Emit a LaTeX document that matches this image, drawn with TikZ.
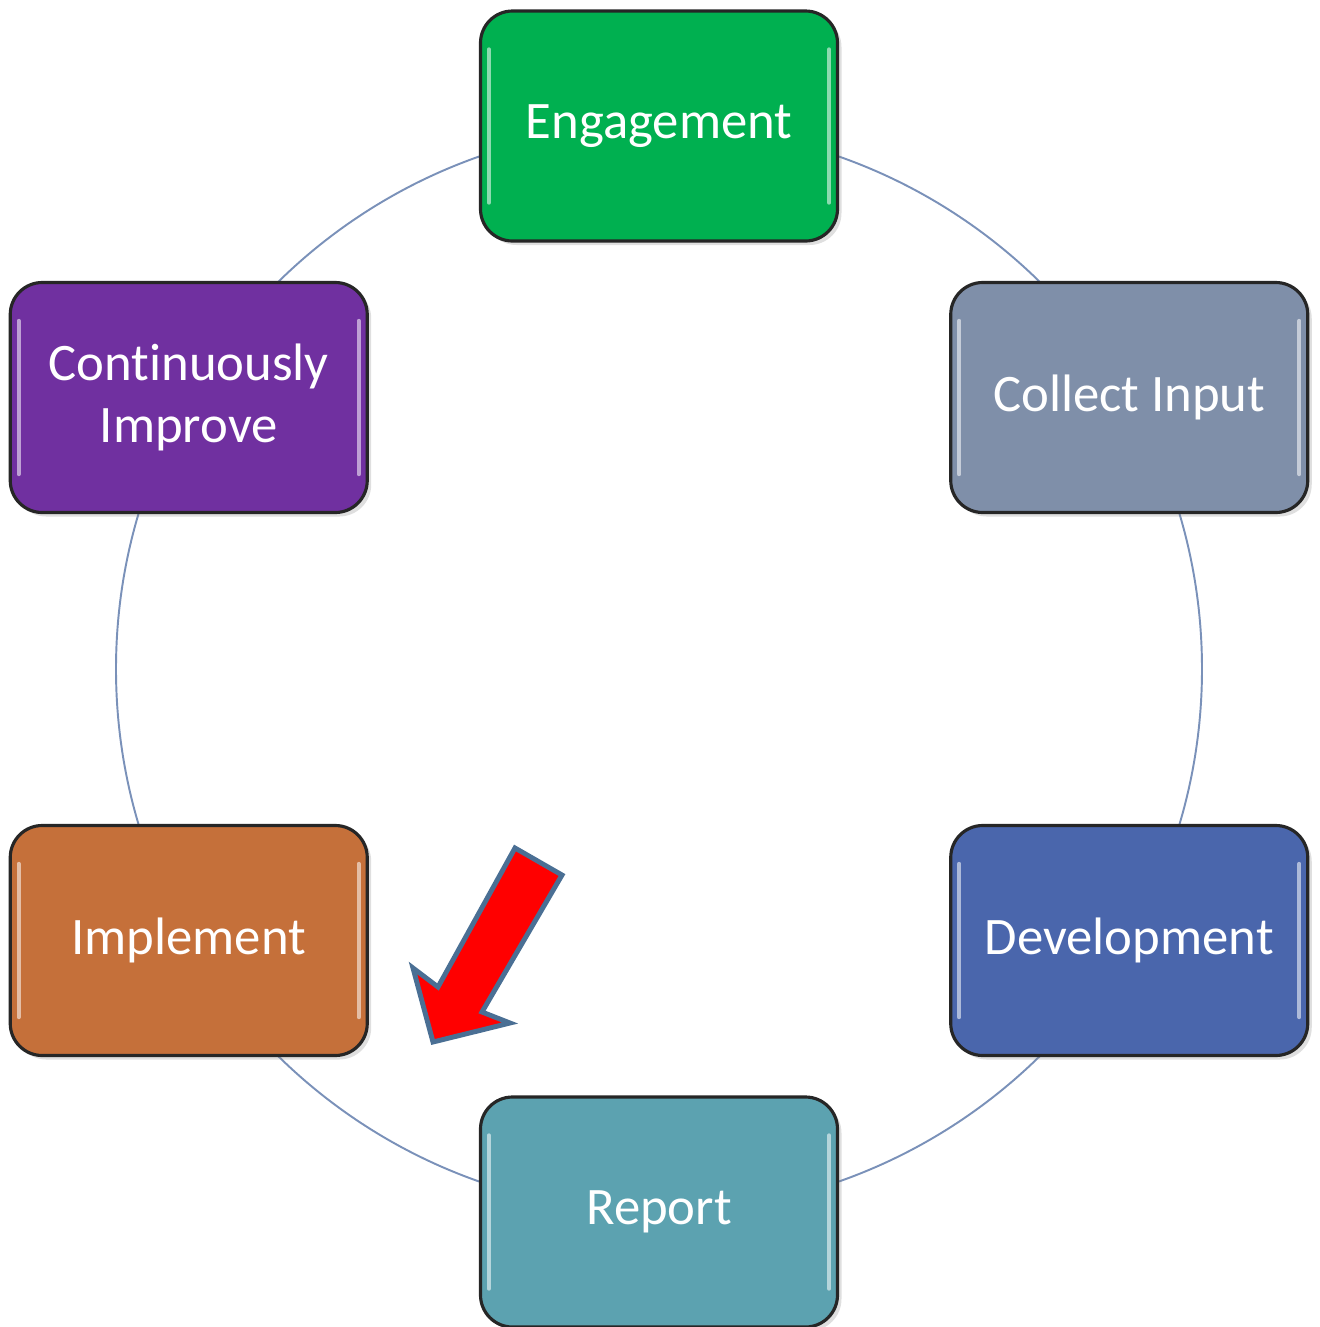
\documentclass[tikz,border=0pt]{standalone}
\usepackage{fontspec}
\setmainfont{Carlito}[Ligatures=NoCommon]
\usetikzlibrary{calc,shadows}

\definecolor{engage}{RGB}{0,176,80}
\definecolor{collect}{RGB}{127,143,169}
\definecolor{develop}{RGB}{74,102,172}
\definecolor{report}{RGB}{92,162,176}
\definecolor{implement}{RGB}{197,112,58}
\definecolor{improve}{RGB}{112,48,160}
\definecolor{ringcol}{RGB}{122,145,185}
\definecolor{arrowedge}{RGB}{74,111,148}

\tikzset{
  stage/.style={draw=black!85,line width=0.9pt,rounded corners=0.32cm,
    minimum width=3.57cm,minimum height=2.3cm,align=center,text=white,
    font=\fontsize{15}{17.5}\selectfont,
    drop shadow={opacity=0.25,shadow xshift=0.04cm,shadow yshift=-0.04cm}},
  gloss/.style={white,line width=1.2pt,opacity=0.55,line cap=round},
  ring/.style={ringcol,line width=0.55pt}
}

\begin{document}
\begin{tikzpicture}[line width=0.8pt]
  \useasboundingbox (0,0) rectangle (13.2,-13.27);
  \coordinate (O) at (6.59,-6.69);
  % ring under the stages
  \draw[ring] (O) circle (5.43);
  % six stages, clockwise from the top
  \foreach \nm/\ang/\col/\txt in {
      engagement/90/engage/Engagement,
      collect/30/collect/Collect Input,
      development/-30/develop/Development,
      report/-90/report/Report,
      implement/-150/implement/Implement,
      improve/150/improve/{Continuously\\Improve}}{
    \node[stage,fill=\col] (\nm) at ($(O)+(\ang:5.43)$) {\txt};
    % glossy edge highlights
    \draw[gloss] ($(\nm.north west)+(0.1,-0.4)$) -- ($(\nm.south west)+(0.1,0.4)$);
    \draw[gloss] ($(\nm.north east)+(-0.1,-0.4)$) -- ($(\nm.south east)+(-0.1,0.4)$);}
  % red block arrow
  \filldraw[fill=red,draw=arrowedge,line width=1.4pt]
    (5.15,-8.48) -- (5.62,-8.75) -- (4.82,-10.12) -- (5.10,-10.23)
    -- (4.33,-10.42) -- (4.13,-9.68) -- (4.38,-9.87) -- cycle;
\end{tikzpicture}
\end{document}
